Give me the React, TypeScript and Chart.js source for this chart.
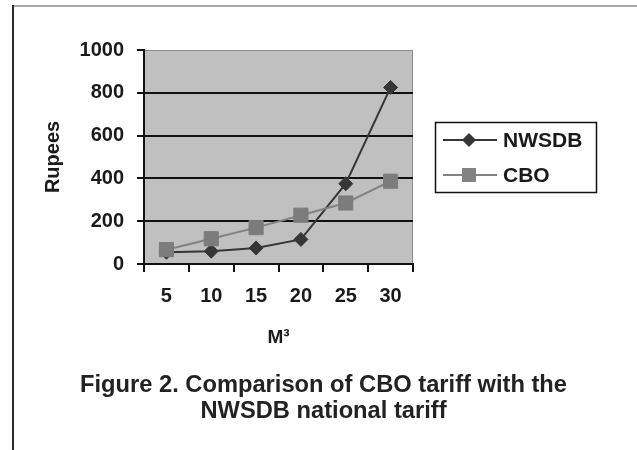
import React, { useEffect, useRef } from "react";
import { Chart, registerables } from "chart.js";

Chart.register(...registerables);

const categories = ["5", "10", "15", "20", "25", "30"];
const nwsdbValues = [55, 60, 75, 115, 375, 825];
const cboValues = [67, 118, 170, 228, 285, 387];
const seriesNames = ["NWSDB", "CBO"];
const yTitle = "Rupees";
const xTitle = "M\u00B3";
const caption = ["Figure 2. Comparison of CBO tariff with the", "NWSDB national tariff"];

const FONT = "'Liberation Sans', Arial, Helvetica, sans-serif";
const NW_COLOR = "#363636";
const CBO_COLOR = "#828282";

const decorPlugin = {
  id: "decor",
  beforeDraw(chart: any) {
    const { ctx, chartArea } = chart;
    ctx.save();
    ctx.fillStyle = "#ffffff";
    ctx.fillRect(0, 0, chart.width, chart.height);
    // outer frame
    ctx.strokeStyle = "#8a8a8a";
    ctx.lineWidth = 1.5;
    ctx.beginPath();
    ctx.moveTo(13, 6);
    ctx.lineTo(chart.width, 6);
    ctx.stroke();
    ctx.strokeStyle = "#2a2a2a";
    ctx.lineWidth = 2;
    ctx.beginPath();
    ctx.moveTo(13, 5);
    ctx.lineTo(13, chart.height);
    ctx.stroke();
    // plot background
    ctx.fillStyle = "#c0c0c0";
    ctx.fillRect(chartArea.left, chartArea.top, chartArea.right - chartArea.left, chartArea.bottom - chartArea.top);
    ctx.strokeStyle = "#8c8c8c";
    ctx.lineWidth = 1;
    ctx.strokeRect(chartArea.left + 0.5, chartArea.top + 0.5, chartArea.right - chartArea.left - 1, chartArea.bottom - chartArea.top - 1);
    ctx.restore();
  },
  afterDraw(chart: any) {
    const { ctx } = chart;
    ctx.save();
    // legend box
    ctx.strokeStyle = "#111111";
    ctx.lineWidth = 1.5;
    ctx.strokeRect(435.5, 122.5, 161, 70);
    const entries = [
      { name: seriesNames[0], color: NW_COLOR, y: 140, shape: "diamond" },
      { name: seriesNames[1], color: CBO_COLOR, y: 175, shape: "square" },
    ];
    entries.forEach((e) => {
      ctx.strokeStyle = e.color;
      ctx.lineWidth = 2;
      ctx.beginPath();
      ctx.moveTo(443, e.y);
      ctx.lineTo(497, e.y);
      ctx.stroke();
      ctx.fillStyle = e.color;
      ctx.beginPath();
      if (e.shape === "diamond") {
        ctx.moveTo(469, e.y - 7);
        ctx.lineTo(476, e.y);
        ctx.lineTo(469, e.y + 7);
        ctx.lineTo(462, e.y);
        ctx.closePath();
      } else {
        ctx.rect(462, e.y - 7, 14, 14);
      }
      ctx.fill();
      ctx.fillStyle = "#1a1a1a";
      ctx.font = `bold 21px ${FONT}`;
      ctx.textAlign = "left";
      ctx.textBaseline = "middle";
      ctx.fillText(e.name, 503, e.y + 1);
    });
    ctx.restore();
  },
};

export default function App() {
  const ref = useRef<HTMLCanvasElement | null>(null);
  useEffect(() => {
    if (!ref.current) return;
    const chart = new Chart(ref.current, {
      type: "line",
      data: {
        labels: categories,
        datasets: [
          {
            label: seriesNames[0],
            data: nwsdbValues,
            borderColor: NW_COLOR,
            backgroundColor: NW_COLOR,
            borderWidth: 2,
            pointStyle: "rectRot",
            pointRadius: 7,
            pointBorderWidth: 1,
            pointBackgroundColor: NW_COLOR,
            pointBorderColor: NW_COLOR,
            order: 1,
            tension: 0,
            yAxisID: "y",
          },
          {
            label: seriesNames[1],
            data: cboValues,
            borderColor: CBO_COLOR,
            backgroundColor: CBO_COLOR,
            borderWidth: 2,
            pointStyle: "rect",
            pointRadius: 10,
            pointBorderWidth: 1,
            pointBackgroundColor: "#7c7c7c",
            pointBorderColor: "#7c7c7c",
            order: 0,
            tension: 0,
            yAxisID: "y",
          },
        ],
      },
      options: {
        animation: false,
        responsive: false,
        layout: { padding: { top: 50, left: 10, right: 0, bottom: 0 } },
        plugins: {
          legend: { display: false },
          tooltip: { enabled: false },
          title: {
            display: true,
            position: "bottom",
            text: caption,
            color: "#222222",
            font: { family: FONT, size: 23.7, weight: "bold", lineHeight: "26px" },
            padding: { top: 22, bottom: 26 },
          },
        },
        scales: {
          x: {
            type: "category",
            offset: true,
            grid: {
              display: true,
              offset: true,
              drawOnChartArea: false,
              drawTicks: true,
              tickLength: 8,
              color: "#111111",
              tickColor: "#111111",
              lineWidth: 2,
            },
            border: { display: true, color: "#111111", width: 2 },
            ticks: {
              color: "#1a1a1a",
              padding: 12,
              maxRotation: 0,
              font: { family: FONT, size: 20, weight: "bold" },
            },
            title: {
              display: true,
              text: xTitle,
              color: "#1a1a1a",
              font: { family: FONT, size: 19, weight: "bold" },
              padding: { top: 0, bottom: 1 },
            },
            afterFit: (s: any) => {
              s.height = 86;
            },
          },
          y: {
            type: "linear",
            position: "left",
            min: 0,
            max: 1000,
            ticks: {
              stepSize: 200,
              color: "#1a1a1a",
              padding: 13,
              font: { family: FONT, size: 20, weight: "bold" },
              callback: (v: any) => String(v),
            },
            grid: {
              color: (c: any) => (c.tick && c.tick.value === 1000 ? "rgba(0,0,0,0)" : "#111111"),
              tickColor: "#111111",
              lineWidth: 2,
              tickLength: 7,
            },
            border: { display: true, color: "#111111", width: 2 },
            title: {
              display: true,
              text: yTitle,
              color: "#1a1a1a",
              font: { family: FONT, size: 20, weight: "bold" },
              padding: { top: 31, bottom: 0 },
            },
            afterFit: (s: any) => {
              s.width = 134;
            },
          },
          spacer: {
            type: "linear",
            position: "right",
            display: true,
            grid: { display: false },
            border: { display: false },
            ticks: { display: false },
            afterFit: (s: any) => {
              s.width = 224;
            },
          },
        },
      },
      plugins: [decorPlugin],
    });
    return () => chart.destroy();
  }, []);
  return (
    <div style={{ position: "absolute", left: 0, top: 0, width: 637, height: 450 }}>
      <canvas ref={ref} width={637} height={450} style={{ display: "block", width: 637, height: 450 }} />
    </div>
  );
}
